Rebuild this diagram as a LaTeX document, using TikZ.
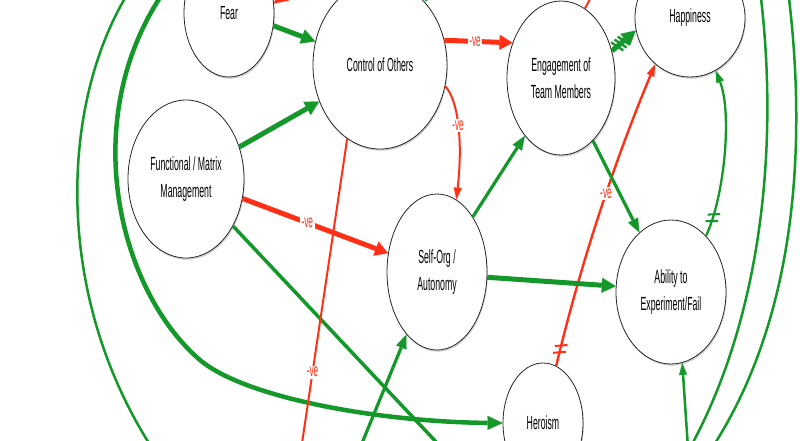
\documentclass[tikz,border=0pt]{standalone}
\usepackage{fontspec}
\setmainfont{Liberation Sans}[FakeStretch=0.46]
\usetikzlibrary{shapes.geometric,arrows.meta,shadows,decorations.markings}
\definecolor{cgreen}{RGB}{20,152,42}
\definecolor{cred}{RGB}{255,48,22}
\begin{document}
\begin{tikzpicture}[x=1pt,y=-1pt,
  bubble/.style={ellipse,draw=black!85,line width=0.8pt,fill=white,inner sep=0pt,
    align=center,font=\fontsize{19}{27}\selectfont,
    drop shadow={shadow xshift=0.8pt,shadow yshift=-1.8pt,opacity=0.35}},
  gthick/.style={draw=cgreen,line width=5pt,-{Triangle[length=14pt,width=15pt,line width=0.1pt]}},
  gbig/.style={draw=cgreen,line width=4.5pt,-{Triangle[length=15pt,width=14pt,line width=0.1pt]}},
  gmed/.style={draw=cgreen,line width=3.2pt,-{Triangle[length=14pt,width=11pt,line width=0.1pt]}},
  gthin/.style={draw=cgreen,line width=2.3pt,-{Triangle[length=12pt,width=8pt,line width=0.1pt]}},
  gplain/.style={draw=cgreen,line width=2.5pt},
  rthick/.style={draw=cred,line width=5pt,-{Triangle[length=13pt,width=15pt,line width=0.1pt]}},
  rthin/.style={draw=cred,line width=2pt,-{Triangle[length=12pt,width=8pt,line width=0.1pt]}},
  rplain/.style={draw=cred,line width=2pt},
  lbl/.style={fill=white,text=cred,inner sep=1.5pt,font=\fontsize{18}{20}\selectfont},
  hashthree/.style={postaction={decorate,decoration={markings,
      mark=at position 0.22 with {\draw[-,cgreen,line width=2.4pt] (-2,-7) -- (2,7);},
      mark=at position 0.36 with {\draw[-,cgreen,line width=2.4pt] (-2,-7) -- (2,7);},
      mark=at position 0.50 with {\draw[-,cgreen,line width=2.4pt] (-2,-7) -- (2,7);}}}},
  hashtwored/.style={postaction={decorate,decoration={markings,
      mark=at position 14pt with {\draw[-,cred,line width=2pt] (-2,-6) -- (2,6);},
      mark=at position 21pt with {\draw[-,cred,line width=2pt] (-2,-6) -- (2,6);}}}},
  hashtwogreen/.style={postaction={decorate,decoration={markings,
      mark=at position 16pt with {\draw[-,cgreen,line width=2pt] (-2,-6) -- (2,6);},
      mark=at position 23pt with {\draw[-,cgreen,line width=2pt] (-2,-6) -- (2,6);}}}}
]
\useasboundingbox (0,0) rectangle (800,440);
\clip (0,0) rectangle (800,440);
\fill[white] (0,0) rectangle (800,440);

% nodes
\node[bubble,minimum width=90pt,minimum height=128pt] (fear) at (229,13) {Fear};
\node[bubble,minimum width=134pt,minimum height=168pt] (control) at (380,65) {Control of Others};
\node[bubble,minimum width=108pt,minimum height=154pt] (engage) at (561,78) {Engagement of\\Team Members};
\node[bubble,minimum width=110pt,minimum height=118pt] (happy) at (690,18) {Happiness};
\node[bubble,minimum width=116pt,minimum height=158pt] (func) at (186,179) {Functional / Matrix\\Management};
\node[bubble,minimum width=100pt,minimum height=156pt] (self) at (437,272) {Self-Org /\\Autonomy};
\node[bubble,minimum width=110pt,minimum height=144pt] (ability) at (671,292) {Ability to\\Experiment/Fail};
\node[bubble,minimum width=80pt,minimum height=120pt] (hero) at (543,423) {Heroism};

% off-frame ends
\coordinate (offA) at (292,-12);
\coordinate (offB) at (440,-14);
\coordinate (offC) at (596,-12);
\coordinate (offD) at (455,462);
\coordinate (offE) at (165,-10);
\coordinate (offF) at (130,-10);
\coordinate (offG) at (160,460);
\coordinate (offH) at (360,448);
\coordinate (offI) at (301,450);
\coordinate (offJ) at (688,448);
\coordinate (offK) at (760,-10);
\coordinate (offL) at (690,448);
\coordinate (offM) at (788,-10);
\coordinate (offN) at (712,448);

% connectors
\draw[gthick] (fear.-16) -- (control.160);
\draw[rthick] (offA) -- (fear.12);
\draw[gmed] (offB) -- (control.55);
\draw[rplain] (engage.71) -- (offC);
\draw[rthick] (control.21) -- node[lbl,pos=0.45] (l1) {-ve} (engage.144);
\draw[rthin] (control.-18) .. controls (458,100) and (463,140) .. node[lbl,pos=0.5] (l2) {-ve} (self.75);
\draw[gthick,hashthree] (engage.28) -- (happy.193);
\draw[rthin,line width=2.4pt,hashtwored] (hero.77) .. controls (581,262) and (615,160) .. node[lbl,pos=0.56] (l3) {-ve} (happy.-127);
\draw[gmed] (engage.-63) -- (ability.118);
\draw[gmed] (self.57) -- (engage.-122);
\draw[gthick] (self.-6) -- (ability.174);
\draw[gthin,hashtwogreen] (ability.58) .. controls (725,195) and (732,112) .. (happy.-64);
\draw[gthick] (func.31) -- (control.-149);
\draw[rthick] (func.-19) -- node[lbl,pos=0.445] (l4) {-ve} (self.159);
\draw[draw=cgreen,line width=3.5pt] (func.-45) -- (offD);
\draw[gbig] (offE) .. controls (75,120) and (120,292) .. (200,360) .. controls (245,398) and (380,422) .. (hero.180);
\draw[gplain] (offF) .. controls (60,100) and (50,300) .. (offG);
\draw[gmed] (offH) -- (self.-116);
\draw[rplain] (control.-114) -- node[lbl,pos=0.75] (l5) {-ve} (offI);
\draw[gthin,line width=2.5pt] (offJ) -- (ability.-81);
\draw[gplain] (offK) .. controls (780,150) and (760,320) .. (offL);
\draw[gplain] (offM) .. controls (808,150) and (795,320) .. (offN);
\end{tikzpicture}
\end{document}
